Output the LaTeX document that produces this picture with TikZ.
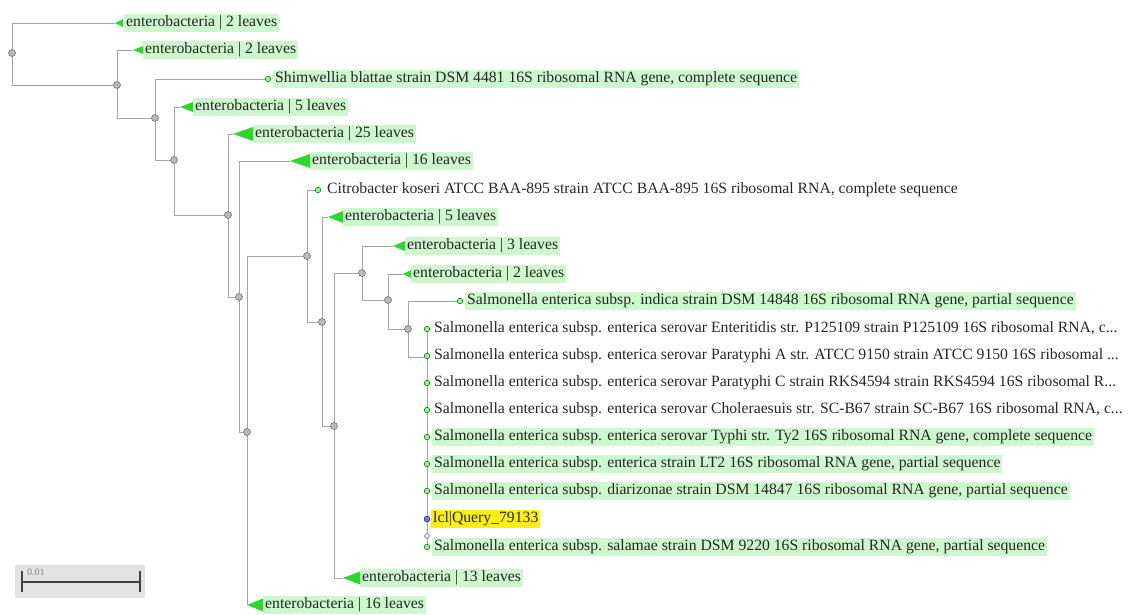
\documentclass[tikz,border=0pt]{standalone}
\usepackage{fontspec}
\setmainfont{Liberation Serif}
\definecolor{lgreen}{RGB}{205,247,205}
\definecolor{tgreen}{RGB}{45,215,45}
\definecolor{brgray}{RGB}{165,165,165}
\definecolor{qyellow}{RGB}{255,238,20}
\pgfdeclarelayer{bg}
\pgfsetlayers{bg,main}
\begin{document}
\begin{tikzpicture}[x=1pt,y=-1pt,
  br/.style={draw=brgray, line width=1pt},
  inode/.style={circle, draw=gray!90!black, fill=gray!55, inner sep=0pt, minimum size=7pt, line width=0.6pt},
  leafc/.style={circle, draw=green!55!black, fill=green!45, inner sep=0pt, minimum size=5.5pt, line width=0.6pt},
  tri/.style={fill=tgreen},
  lab/.style={anchor=west, inner sep=2pt, font=\fontsize{15.7}{16}\selectfont, text height=10.5pt, text depth=3.5pt, text=black!85},
  glab/.style={lab, fill=lgreen},
  ylab/.style={lab, fill=qyellow}
]
\useasboundingbox (0,0) rectangle (1137,614);

% ---------- internal nodes ----------
\node[inode] (n0) at (12,53) {};
\node[inode] (n1) at (117,85) {};
\node[inode] (n2) at (155,118) {};
\node[inode] (n3) at (174,160) {};
\node[inode] (n4) at (228,215) {};
\node[inode] (n5) at (239,297) {};
\node[inode] (n6) at (247,432) {};
\node[inode] (n7) at (307,256) {};
\node[inode] (n8) at (322,322) {};
\node[inode] (n9) at (334,426) {};
\node[inode] (n10) at (362,273) {};
\node[inode] (n11) at (388,300) {};
\node[inode] (n12) at (408,329) {};
\coordinate (n13) at (427,357);

% ---------- collapsed clades (triangles) ----------
\coordinate (t1) at (115,23);
\coordinate (t2) at (133,50);
\coordinate (t4) at (180,107);
\coordinate (t5) at (233,134);
\coordinate (t6) at (290,161);
\coordinate (t8) at (328,217);
\coordinate (t9) at (393,246);
\coordinate (t10) at (403,274);
\coordinate (t21) at (343,578);
\coordinate (t22) at (247,605);

\node[glab] (l1) at (124,23) {enterobacteria | 2 leaves};
\node[glab] (l2) at (143,50) {enterobacteria | 2 leaves};
\node[glab] (l4) at (193,107) {enterobacteria | 5 leaves};
\node[glab] (l5) at (253,134) {enterobacteria | 25 leaves};
\node[glab] (l6) at (310,161) {enterobacteria | 16 leaves};
\node[glab] (l8) at (343,217) {enterobacteria | 5 leaves};
\node[glab] (l9) at (405,246) {enterobacteria | 3 leaves};
\node[glab] (l10) at (411,274) {enterobacteria | 2 leaves};
\node[glab] (l21) at (360,578) {enterobacteria | 13 leaves};
\node[glab] (l22) at (263,605) {enterobacteria | 16 leaves};

\fill[tri] (t1) -- ++(8,-4) -- ++(0,8) -- cycle;
\fill[tri] (t2) -- ++(10,-4) -- ++(0,8) -- cycle;
\fill[tri] (t4) -- ++(13,-5) -- ++(0,10) -- cycle;
\fill[tri] (t5) -- ++(20,-7) -- ++(0,14) -- cycle;
\fill[tri] (t6) -- ++(20,-7) -- ++(0,14) -- cycle;
\fill[tri] (t8) -- ++(15,-6) -- ++(0,12) -- cycle;
\fill[tri] (t9) -- ++(12,-5) -- ++(0,10) -- cycle;
\fill[tri] (t10) -- ++(8,-4) -- ++(0,8) -- cycle;
\fill[tri] (t21) -- ++(17,-6.5) -- ++(0,13) -- cycle;
\fill[tri] (t22) -- ++(16,-6.5) -- ++(0,13) -- cycle;

% ---------- leaves ----------
\node[leafc] (c3) at (268,79) {};
\node[leafc] (c7) at (318,190) {};
\node[leafc] (c11) at (460,301) {};
\node[leafc] (c12) at (427,329) {};
\node[leafc] (c13) at (427,356) {};
\node[leafc] (c14) at (427,383) {};
\node[leafc] (c15) at (427,410) {};
\node[leafc] (c16) at (427,437) {};
\node[leafc] (c17) at (427,464) {};
\node[leafc] (c18) at (427,491) {};
\node[circle, draw=blue!60!black, fill=blue!55, inner sep=0pt, minimum size=6pt] (c19) at (427,519) {};
\node[circle, draw=blue!35!gray, fill=blue!12, inner sep=0pt, minimum size=5pt] (q) at (427,536) {};
\node[leafc] (c20) at (427,547) {};

\node[glab] (l3) at (273,79) {Shimwellia blattae strain DSM 4481 16S ribosomal RNA gene, complete sequence};
\node[lab] (l7) at (325,190) {Citrobacter koseri ATCC BAA-895 strain ATCC BAA-895 16S ribosomal RNA, complete sequence};
\node[glab] (l11) at (465,301) {Salmonella enterica subsp. indica strain DSM 14848 16S ribosomal RNA gene, partial sequence};
\node[lab] (l12) at (432,329) {Salmonella enterica subsp. enterica serovar Enteritidis str. P125109 strain P125109 16S ribosomal RNA, c...};
\node[lab] (l13) at (432,356) {Salmonella enterica subsp. enterica serovar Paratyphi A str. ATCC 9150 strain ATCC 9150 16S ribosomal ...};
\node[lab] (l14) at (432,383) {Salmonella enterica subsp. enterica serovar Paratyphi C strain RKS4594 strain RKS4594 16S ribosomal R...};
\node[lab] (l15) at (432,410) {Salmonella enterica subsp. enterica serovar Choleraesuis str. SC-B67 strain SC-B67 16S ribosomal RNA, c...};
\node[glab] (l16) at (432,437) {Salmonella enterica subsp. enterica serovar Typhi str. Ty2 16S ribosomal RNA gene, complete sequence};
\node[glab] (l17) at (432,464) {Salmonella enterica subsp. enterica strain LT2 16S ribosomal RNA gene, partial sequence};
\node[glab] (l18) at (432,491) {Salmonella enterica subsp. diarizonae strain DSM 14847 16S ribosomal RNA gene, partial sequence};
\node[ylab] (l19) at (431,519) {lcl|Query\_79133};
\node[glab] (l20) at (432,547) {Salmonella enterica subsp. salamae strain DSM 9220 16S ribosomal RNA gene, partial sequence};

% ---------- branches ----------
\begin{pgfonlayer}{bg}
\draw[br] (n0.center) |- (t1);
\draw[br] (n0.center) |- (n1.center);
\draw[br] (n1.center) |- (t2);
\draw[br] (n1.center) |- (n2.center);
\draw[br] (n2.center) |- (c3.center);
\draw[br] (n2.center) |- (n3.center);
\draw[br] (n3.center) |- (t4);
\draw[br] (n3.center) |- (n4.center);
\draw[br] (n4.center) |- (t5);
\draw[br] (n4.center) |- (n5.center);
\draw[br] (n5.center) |- (t6);
\draw[br] (n5.center) |- (n6.center);
\draw[br] (n6.center) |- (n7.center);
\draw[br] (n6.center) |- (t22);
\draw[br] (n7.center) |- (c7.center);
\draw[br] (n7.center) |- (n8.center);
\draw[br] (n8.center) |- (t8);
\draw[br] (n8.center) |- (n9.center);
\draw[br] (n9.center) |- (n10.center);
\draw[br] (n9.center) |- (t21);
\draw[br] (n10.center) |- (t9);
\draw[br] (n10.center) |- (n11.center);
\draw[br] (n11.center) |- (t10);
\draw[br] (n11.center) |- (n12.center);
\draw[br] (n12.center) |- (c11.center);
\draw[br] (n12.center) |- (n13);
\draw[br] (c12.center) -- (c20.center);
\end{pgfonlayer}

% ---------- scale bar ----------
\node[fill=gray!22, minimum width=130pt, minimum height=33pt, inner sep=0pt] (sb) at (80,581.5) {};
\coordinate (sbl) at (22,582);
\coordinate (sbr) at (140,582);
\draw[line width=1.4pt, black!75] (sbl) -- (sbr);
\draw[line width=1.6pt, black!75] ([yshift=-10pt]sbl) -- ([yshift=11pt]sbl);
\draw[line width=1.6pt, black!75] ([yshift=-10pt]sbr) -- ([yshift=11pt]sbr);
\node[anchor=west, inner sep=0pt, font=\fontsize{10}{10}\selectfont, text=gray] (sbt) at (27,572) {0.01};
\end{tikzpicture}
\end{document}
